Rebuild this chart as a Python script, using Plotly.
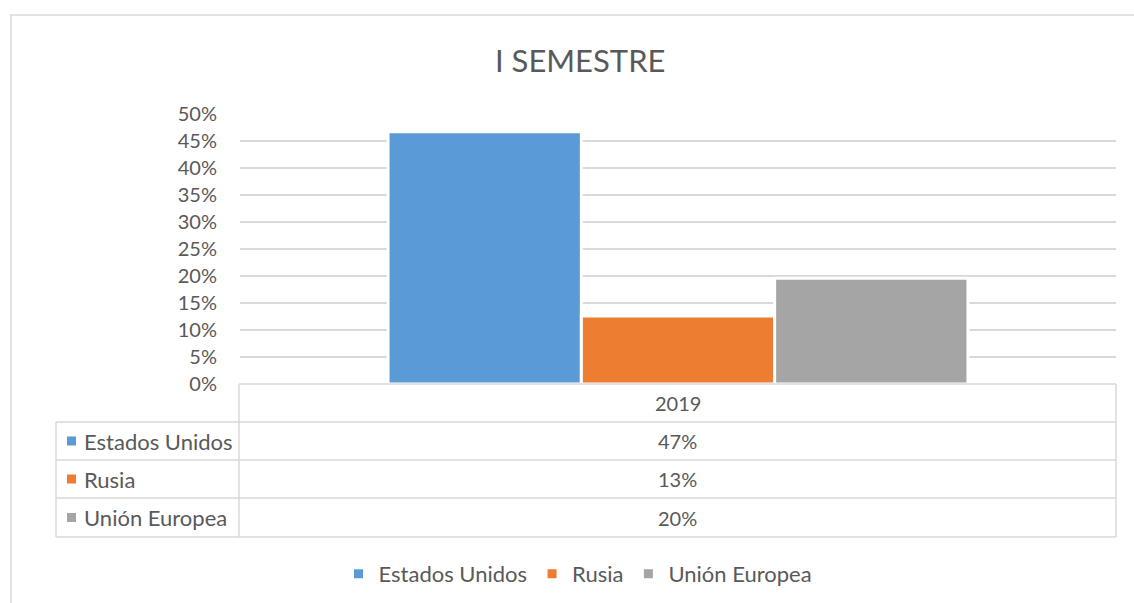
import plotly.graph_objects as go

# ---- data ----
title_text = "I SEMESTRE"
categories = ["2019"]
series_names = ["Estados Unidos", "Rusia", "Unión Europea"]
series_values = [0.467, 0.126, 0.196]
table_labels = ["47%", "13%", "20%"]
colors = ["#5B9BD5", "#ED7D31", "#A5A5A5"]
y_ticks = [0, 0.05, 0.10, 0.15, 0.20, 0.25, 0.30, 0.35, 0.40, 0.45, 0.50]

W, H = 1134, 603
FONT = "Lato"
TXT = "#595959"
GRID = "#D9D9D9"


def px(x):
    return x / W


def py(y):
    return 1 - y / H


fig = go.Figure()
for name, val, col in zip(series_names, series_values, colors):
    fig.add_trace(go.Bar(
        x=categories, y=[val], name=name,
        marker=dict(color=col, line=dict(color="white", width=3)),
    ))

# plot area in pixels
X0, X1 = 240, 1116
Y0, Y50 = 384, 114

fig.update_layout(
    template="none",
    width=W, height=H,
    margin=dict(l=0, r=0, t=0, b=0, pad=0, autoexpand=False),
    paper_bgcolor="white", plot_bgcolor="white",
    barmode="group", bargap=0.338, bargroupgap=0.0,
    font=dict(family=FONT, color=TXT, size=20),
    xaxis=dict(domain=[px(X0), px(X1)], showticklabels=False, showgrid=False,
               zeroline=False, showline=False, ticks="", automargin=False),
    yaxis=dict(domain=[py(Y0), py(Y50)], range=[0, 0.5], tickvals=y_ticks,
               tickformat=".0%", showgrid=True, gridcolor=GRID, gridwidth=1.5,
               zeroline=False, showline=False, ticks="", automargin=False,
               ticklabelstandoff=22,
               tickfont=dict(family=FONT, color=TXT, size=20)),
    showlegend=True,
    legend=dict(orientation="h", x=px(578), xanchor="center", y=py(574), yanchor="middle",
                font=dict(family=FONT, color=TXT, size=22), itemwidth=30,
                traceorder="normal", bgcolor="rgba(0,0,0,0)"),
)

shapes = []
# chart border (top & left visible)
shapes.append(dict(type="rect", xref="paper", yref="paper",
                   x0=px(11), y0=py(620), x1=px(1150), y1=py(15),
                   line=dict(color=GRID, width=1.5), fillcolor="rgba(0,0,0,0)"))

# data table lines
row_y = [384, 422, 460, 498, 537]
line = dict(color=GRID, width=1.5)
shapes.append(dict(type="line", xref="paper", yref="paper",
                   x0=px(239), x1=px(1116), y0=py(384), y1=py(384), line=line))
for yy in row_y[1:]:
    shapes.append(dict(type="line", xref="paper", yref="paper",
                       x0=px(56), x1=px(1116), y0=py(yy), y1=py(yy), line=line))
shapes.append(dict(type="line", xref="paper", yref="paper",
                   x0=px(239), x1=px(239), y0=py(384), y1=py(537), line=line))
shapes.append(dict(type="line", xref="paper", yref="paper",
                   x0=px(1116), x1=px(1116), y0=py(384), y1=py(537), line=line))
shapes.append(dict(type="line", xref="paper", yref="paper",
                   x0=px(56), x1=px(56), y0=py(422), y1=py(537), line=line))

annotations = []
annotations.append(dict(text=title_text, xref="paper", yref="paper",
                        x=px(580), y=py(60), xanchor="center", yanchor="middle",
                        showarrow=False, font=dict(family=FONT, color=TXT, size=31)))
annotations.append(dict(text=categories[0], xref="paper", yref="paper",
                        x=px(677.5), y=py(403), xanchor="center", yanchor="middle",
                        showarrow=False, font=dict(family=FONT, color=TXT, size=20)))
for i, (name, lab, col) in enumerate(zip(series_names, table_labels, colors)):
    yc = (row_y[i + 1] + row_y[i + 2]) / 2
    annotations.append(dict(text=lab, xref="paper", yref="paper",
                            x=px(677.5), y=py(yc), xanchor="center", yanchor="middle",
                            showarrow=False, font=dict(family=FONT, color=TXT, size=20)))
    annotations.append(dict(text=name, xref="paper", yref="paper",
                            x=px(82), y=py(yc), xanchor="left", yanchor="middle",
                            showarrow=False, font=dict(family=FONT, color=TXT, size=22)))
    shapes.append(dict(type="rect", xref="paper", yref="paper",
                       x0=px(67), x1=px(76), y0=py(yc + 4.5), y1=py(yc - 4.5),
                       line=dict(width=0), fillcolor=col))

fig.update_layout(shapes=shapes, annotations=annotations)

fig.write_html("out.html", config={"displayModeBar": False},
               post_script="document.body.style.margin='0';")
